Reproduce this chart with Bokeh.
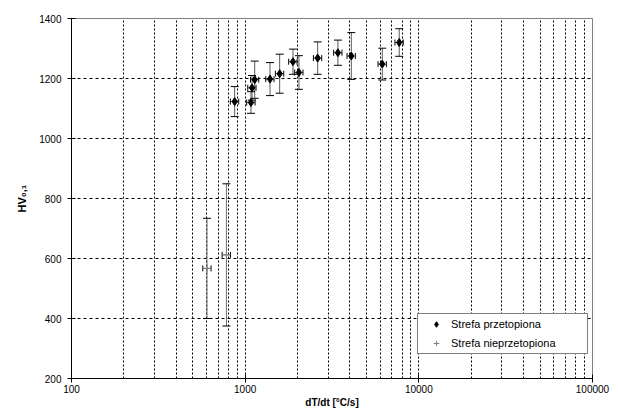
from bokeh.plotting import figure
from bokeh.models import (ColumnDataSource, Whisker, TeeHead, FixedTicker,
                          Legend, LegendItem, NumeralTickFormatter)
from bokeh.embed import file_html
from bokeh.resources import INLINE

# ---- data ----
rate_melted = [870, 1080, 1095, 1135, 1390, 1580, 1885, 2040, 2615, 3420, 4085, 6160, 7710]
hv_melted = [1123, 1120, 1169, 1196, 1198, 1216, 1256, 1220, 1268, 1286, 1275, 1248, 1320]
hv_melted_err = [50, 36, 41, 62, 55, 65, 42, 56, 54, 42, 78, 53, 46]
rate_melted_err = [48, 60, 60, 62, 76, 87, 104, 112, 144, 188, 225, 339, 424]

rate_unmelted = [603, 780]
hv_unmelted = [567, 612]
hv_unmelted_err = [167, 237]
rate_unmelted_err = [33, 43]

x_ticks = [100, 1000, 10000, 100000]
x_minor = [200, 300, 400, 500, 600, 700, 800, 900,
           2000, 3000, 4000, 5000, 6000, 7000, 8000, 9000,
           20000, 30000, 40000, 50000, 60000, 70000, 80000, 90000]
y_ticks = [200, 400, 600, 800, 1000, 1200, 1400]

series_names = ["Strefa przetopiona", "Strefa nieprzetopiona"]
x_title = "dT/dt [°C/s]"
y_title = "HV₀,₁"

FONT = "Liberation Sans"


def make_source(xs, ys, yerr, xerr):
    return ColumnDataSource(dict(
        x=xs, y=ys,
        ylo=[v - e for v, e in zip(ys, yerr)],
        yhi=[v + e for v, e in zip(ys, yerr)],
        xlo=[v - e for v, e in zip(xs, xerr)],
        xhi=[v + e for v, e in zip(xs, xerr)],
    ))


src1 = make_source(rate_melted, hv_melted, hv_melted_err, rate_melted_err)
src2 = make_source(rate_unmelted, hv_unmelted, hv_unmelted_err, rate_unmelted_err)

p = figure(x_axis_type="log", x_range=(100, 100000), y_range=(200, 1400),
           frame_width=521, frame_height=360,
           min_border_left=71, min_border_top=18, min_border_right=24,
           min_border_bottom=0,
           output_backend="svg", toolbar_location=None,
           background_fill_color="white", border_fill_color="white")

p.outline_line_color = "#808080"
p.outline_line_width = 1

# axes
p.xaxis.ticker = FixedTicker(ticks=x_ticks, minor_ticks=x_minor)
p.xaxis.formatter = NumeralTickFormatter(format="0")
p.yaxis.ticker = FixedTicker(ticks=y_ticks)
for ax in (p.xaxis[0], p.yaxis[0]):
    ax.axis_line_color = "black"
    ax.major_tick_line_color = "black"
    ax.minor_tick_line_color = None
    ax.major_tick_in = 4
    ax.major_tick_out = 4
    ax.major_label_text_font = FONT
    ax.major_label_text_font_size = "10px"
    ax.major_label_text_color = "black"
    ax.axis_label_text_font = FONT
    ax.axis_label_text_font_size = "10px"
    ax.axis_label_text_font_style = "bold"
    ax.axis_label_text_color = "black"

p.xaxis.axis_label = x_title
p.xaxis.major_label_standoff = 2
p.xaxis.axis_label_standoff = 1
p.yaxis.axis_label = y_title
p.yaxis.axis_label_text_font_size = "11px"
p.yaxis.major_label_standoff = 6
p.yaxis.axis_label_standoff = 8

# grid
p.xgrid.grid_line_color = "black"
p.xgrid.grid_line_dash = "2 2"
p.xgrid.minor_grid_line_color = "black"
p.xgrid.minor_grid_line_dash = "2 2"
p.ygrid.grid_line_color = "black"
p.ygrid.grid_line_dash = "3 3"

# error bars
for src, col in ((src1, "#5a5a5a"), (src2, "#6a6a6a")):
    p.add_layout(Whisker(source=src, base="x", lower="ylo", upper="yhi",
                         dimension="height", line_color=col, line_width=1,
                         lower_head=TeeHead(size=8, line_color="black"),
                         upper_head=TeeHead(size=8, line_color="black")))
    p.add_layout(Whisker(source=src, base="y", lower="xlo", upper="xhi",
                         dimension="width", line_color=col, line_width=1,
                         lower_head=TeeHead(size=6, line_color="black"),
                         upper_head=TeeHead(size=6, line_color="black")))

r1 = p.scatter("x", "y", source=src1, marker="diamond", size=8,
               fill_color="black", line_color="black")
r2 = p.scatter("x", "y", source=src2, marker="cross", size=8,
               line_color="#808080", line_width=1)

legend = Legend(items=[LegendItem(label=series_names[0], renderers=[r1]),
                       LegendItem(label=series_names[1], renderers=[r2])],
                location=(346, 24), orientation="vertical",
                border_line_color="black", border_line_width=1,
                background_fill_color="white", background_fill_alpha=1,
                label_text_font=FONT, label_text_font_size="11px",
                label_text_color="black",
                glyph_width=30, glyph_height=14, label_height=14,
                label_width=133,
                label_standoff=0, padding=3, spacing=5, margin=0)
p.add_layout(legend, "center")

open("out.html", "w").write(file_html(p, INLINE))
